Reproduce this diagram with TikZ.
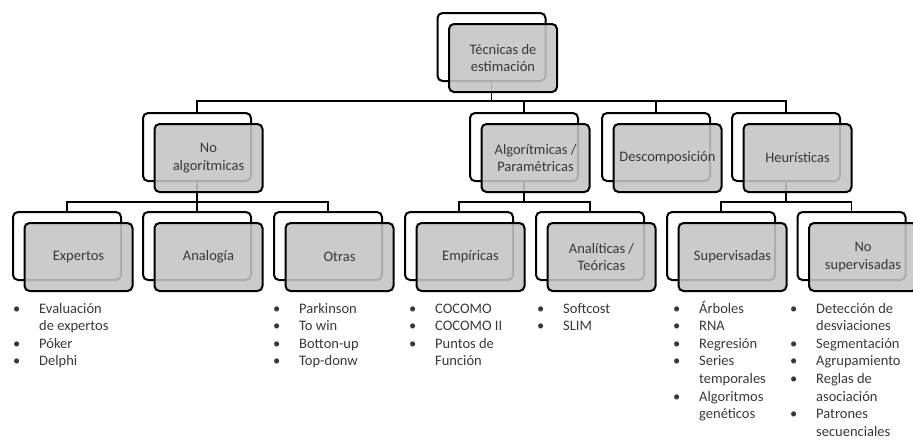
\documentclass[tikz,border=0pt]{standalone}
\usepackage{fontspec}
\setmainfont{Carlito}
\newcommand\lbul{\makebox[26pt][l]{•}}
\begin{document}
\begin{tikzpicture}[x=1pt,y=-1pt,
  conn/.style={line width=1.8pt, draw=black},
  backbox/.style={draw=black, line width=2pt, fill=white, rounded corners=5pt,
    minimum width=108pt, minimum height=68pt, inner sep=0pt},
  frontbox/.style={draw=black, line width=2pt, fill=black!23, fill opacity=0.88,
    text opacity=1, rounded corners=5pt, minimum width=108pt, minimum height=68pt,
    inner sep=0pt, align=center, text=black!78, font=\fontsize{14.5}{17.5}\selectfont},
  list/.style={anchor=north west, inner sep=0pt, text=black!78,
    font=\fontsize{14.5}{17.6}\selectfont},
]
\useasboundingbox (0,0) rectangle (913,440);

% back (outline) boxes
\node[backbox] (top)   at (491.5,47) {};
\node[backbox] (noalg) at (197,147) {};
\node[backbox] (alg)   at (524,147) {};
\node[backbox] (desc)  at (656,147) {};
\node[backbox] (heur)  at (786,147) {};
\node[backbox] (exp)   at (67,246) {};
\node[backbox] (ana)   at (197,246) {};
\node[backbox] (otr)   at (328,246) {};
\node[backbox] (emp)   at (459,246) {};
\node[backbox] (teo)   at (590,246) {};
\node[backbox] (sup)   at (721,246) {};
\node[backbox] (nsup)  at (851.5,246) {};

% bus levels
\coordinate (busA) at (0,101);
\coordinate (busB) at (0,202);

% connectors
\foreach \c in {noalg,alg,desc,heur}
  \draw[conn] (top.south) -- (top.south |- busA) -| (\c.north);
\foreach \c in {exp,ana,otr}
  \draw[conn] (noalg.south) -- (noalg.south |- busB) -| (\c.north);
\foreach \c in {emp,teo}
  \draw[conn] (alg.south) -- (alg.south |- busB) -| (\c.north);
\foreach \c in {sup,nsup}
  \draw[conn] (heur.south) -- (heur.south |- busB) -| (\c.north);

% front (filled) boxes with labels
\node[frontbox] (topF)   at ([shift={(11.5,11)}]top.center)   {Técnicas de\\estimación};
\node[frontbox] (noalgF) at ([shift={(11.5,11)}]noalg.center) {No\\algorítmicas};
\node[frontbox] (algF)   at ([shift={(11.5,11)}]alg.center)   {Algorítmicas /\\Paramétricas};
\node[frontbox] (descF)  at ([shift={(11.5,11)}]desc.center)  {Descomposición};
\node[frontbox] (heurF)  at ([shift={(11.5,11)}]heur.center)  {Heurísticas};
\node[frontbox] (expF)   at ([shift={(11.5,11)}]exp.center)   {Expertos};
\node[frontbox] (anaF)   at ([shift={(11.5,11)}]ana.center)   {Analogía};
\node[frontbox] (otrF)   at ([shift={(11.5,11)}]otr.center)   {Otras};
\node[frontbox] (empF)   at ([shift={(11.5,11)}]emp.center)   {Empíricas};
\node[frontbox] (teoF)   at ([shift={(11.5,11)}]teo.center)   {Analíticas /\\Teóricas};
\node[frontbox] (supF)   at ([shift={(11.5,11)}]sup.center)   {Supervisadas};
\node[frontbox] (nsupF)  at ([shift={(11.5,11)}]nsup.center)  {No\\supervisadas};

% bullet lists
\node[list] (lexp) at (13,300.5) {\begin{tabular}{@{}l@{}l@{}}
  \lbul & Evaluación\\ & de expertos\\ \lbul & Póker\\ \lbul & Delphi\end{tabular}};
\node[list] (lotr) at (273,300.5) {\begin{tabular}{@{}l@{}l@{}}
  \lbul & Parkinson\\ \lbul & To win\\ \lbul & Botton-up\\ \lbul & Top-donw\end{tabular}};
\node[list] (lemp) at (409,300.5) {\begin{tabular}{@{}l@{}l@{}}
  \lbul & COCOMO\\ \lbul & COCOMO II\\ \lbul & Puntos de\\ & Función\end{tabular}};
\node[list] (lteo) at (537,300.5) {\begin{tabular}{@{}l@{}l@{}}
  \lbul & Softcost\\ \lbul & SLIM\end{tabular}};
\node[list] (lsup) at (673,300.5) {\begin{tabular}{@{}l@{}l@{}}
  \lbul & Árboles\\ \lbul & RNA\\ \lbul & Regresión\\ \lbul & Series\\ & temporales\\
  \lbul & Algoritmos\\ & genéticos\end{tabular}};
\node[list] (lnsup) at (790,300.5) {\begin{tabular}{@{}l@{}l@{}}
  \lbul & Detección de\\ & desviaciones\\ \lbul & Segmentación\\ \lbul & Agrupamiento\\
  \lbul & Reglas de\\ & asociación\\ \lbul & Patrones\\ & secuenciales\end{tabular}};
\end{tikzpicture}
\end{document}
